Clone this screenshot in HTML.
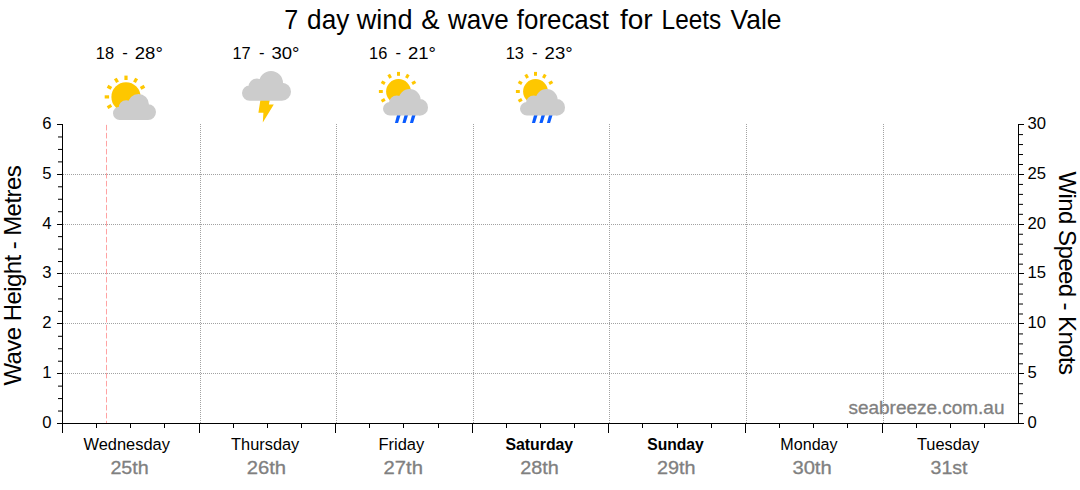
<!DOCTYPE html>
<html><head><meta charset="utf-8"><title>7 day wind &amp; wave forecast for Leets Vale</title>
<style>html,body{margin:0;padding:0;background:#fff;}body{width:1080px;height:490px;overflow:hidden;font-family:"Liberation Sans", sans-serif;}svg{display:block;}text{font-family:"Liberation Sans", sans-serif;}</style></head><body>
<svg width="1080" height="490" viewBox="0 0 1080 490">
<rect width="1080" height="490" fill="#fff"/>
<defs>
<pattern id="hd" x="1" y="0" width="2" height="1" patternUnits="userSpaceOnUse"><rect x="0" y="0" width="1" height="1" fill="#a2a2a2"/></pattern>
<pattern id="vd" x="0" y="0" width="1" height="2" patternUnits="userSpaceOnUse"><rect x="0" y="0" width="1" height="1" fill="#a2a2a2"/></pattern>
</defs>
<g shape-rendering="crispEdges">
<rect x="63" y="174" width="953" height="1" fill="url(#hd)"/>
<rect x="63" y="224" width="953" height="1" fill="url(#hd)"/>
<rect x="63" y="273" width="953" height="1" fill="url(#hd)"/>
<rect x="63" y="323" width="953" height="1" fill="url(#hd)"/>
<rect x="63" y="373" width="953" height="1" fill="url(#hd)"/>
<rect x="200" y="124" width="1" height="299" fill="url(#vd)"/>
<rect x="336" y="124" width="1" height="299" fill="url(#vd)"/>
<rect x="473" y="124" width="1" height="299" fill="url(#vd)"/>
<rect x="609" y="124" width="1" height="299" fill="url(#vd)"/>
<rect x="746" y="124" width="1" height="299" fill="url(#vd)"/>
<rect x="883" y="124" width="1" height="299" fill="url(#vd)"/>
<rect x="62" y="124" width="1" height="300" fill="#000"/>
<rect x="1018" y="124" width="1" height="300" fill="#000"/>
<rect x="62" y="423" width="957" height="1" fill="#000"/>
<rect x="57" y="124" width="5" height="1" fill="#000"/>
<rect x="57" y="174" width="5" height="1" fill="#000"/>
<rect x="57" y="224" width="5" height="1" fill="#000"/>
<rect x="57" y="273" width="5" height="1" fill="#000"/>
<rect x="57" y="323" width="5" height="1" fill="#000"/>
<rect x="57" y="373" width="5" height="1" fill="#000"/>
<rect x="57" y="423" width="5" height="1" fill="#000"/>
</g>
<rect x="106" y="124.85" width="1" height="5.60" fill="#ffa3a3"/>
<rect x="106" y="132.85" width="1" height="5.60" fill="#ffa3a3"/>
<rect x="106" y="140.85" width="1" height="5.60" fill="#ffa3a3"/>
<rect x="106" y="148.85" width="1" height="5.60" fill="#ffa3a3"/>
<rect x="106" y="156.85" width="1" height="5.60" fill="#ffa3a3"/>
<rect x="106" y="164.85" width="1" height="5.60" fill="#ffa3a3"/>
<rect x="106" y="172.85" width="1" height="5.60" fill="#ffa3a3"/>
<rect x="106" y="180.85" width="1" height="5.60" fill="#ffa3a3"/>
<rect x="106" y="188.85" width="1" height="5.60" fill="#ffa3a3"/>
<rect x="106" y="196.85" width="1" height="5.60" fill="#ffa3a3"/>
<rect x="106" y="204.85" width="1" height="5.60" fill="#ffa3a3"/>
<rect x="106" y="212.85" width="1" height="5.60" fill="#ffa3a3"/>
<rect x="106" y="220.85" width="1" height="5.60" fill="#ffa3a3"/>
<rect x="106" y="228.85" width="1" height="5.60" fill="#ffa3a3"/>
<rect x="106" y="236.85" width="1" height="5.60" fill="#ffa3a3"/>
<rect x="106" y="244.85" width="1" height="5.60" fill="#ffa3a3"/>
<rect x="106" y="252.85" width="1" height="5.60" fill="#ffa3a3"/>
<rect x="106" y="260.85" width="1" height="5.60" fill="#ffa3a3"/>
<rect x="106" y="268.85" width="1" height="5.60" fill="#ffa3a3"/>
<rect x="106" y="276.85" width="1" height="5.60" fill="#ffa3a3"/>
<rect x="106" y="284.85" width="1" height="5.60" fill="#ffa3a3"/>
<rect x="106" y="292.85" width="1" height="5.60" fill="#ffa3a3"/>
<rect x="106" y="300.85" width="1" height="5.60" fill="#ffa3a3"/>
<rect x="106" y="308.85" width="1" height="5.60" fill="#ffa3a3"/>
<rect x="106" y="316.85" width="1" height="5.60" fill="#ffa3a3"/>
<rect x="106" y="324.85" width="1" height="5.60" fill="#ffa3a3"/>
<rect x="106" y="332.85" width="1" height="5.60" fill="#ffa3a3"/>
<rect x="106" y="340.85" width="1" height="5.60" fill="#ffa3a3"/>
<rect x="106" y="348.85" width="1" height="5.60" fill="#ffa3a3"/>
<rect x="106" y="356.85" width="1" height="5.60" fill="#ffa3a3"/>
<rect x="106" y="364.85" width="1" height="5.60" fill="#ffa3a3"/>
<rect x="106" y="372.85" width="1" height="5.60" fill="#ffa3a3"/>
<rect x="106" y="380.85" width="1" height="5.60" fill="#ffa3a3"/>
<rect x="106" y="388.85" width="1" height="5.60" fill="#ffa3a3"/>
<rect x="106" y="396.85" width="1" height="5.60" fill="#ffa3a3"/>
<rect x="106" y="404.85" width="1" height="5.60" fill="#ffa3a3"/>
<rect x="106" y="412.85" width="1" height="5.60" fill="#ffa3a3"/>
<rect x="106" y="420.85" width="1" height="2.15" fill="#ffa3a3"/>
<rect x="58" y="136.46" width="4" height="1" fill="#000"/>
<rect x="58" y="148.92" width="4" height="1" fill="#000"/>
<rect x="58" y="161.38" width="4" height="1" fill="#000"/>
<rect x="58" y="186.29" width="4" height="1" fill="#000"/>
<rect x="58" y="198.75" width="4" height="1" fill="#000"/>
<rect x="58" y="211.21" width="4" height="1" fill="#000"/>
<rect x="58" y="236.12" width="4" height="1" fill="#000"/>
<rect x="58" y="248.58" width="4" height="1" fill="#000"/>
<rect x="58" y="261.04" width="4" height="1" fill="#000"/>
<rect x="58" y="285.96" width="4" height="1" fill="#000"/>
<rect x="58" y="298.42" width="4" height="1" fill="#000"/>
<rect x="58" y="310.88" width="4" height="1" fill="#000"/>
<rect x="58" y="335.79" width="4" height="1" fill="#000"/>
<rect x="58" y="348.25" width="4" height="1" fill="#000"/>
<rect x="58" y="360.71" width="4" height="1" fill="#000"/>
<rect x="58" y="385.62" width="4" height="1" fill="#000"/>
<rect x="58" y="398.08" width="4" height="1" fill="#000"/>
<rect x="58" y="410.54" width="4" height="1" fill="#000"/>
<g shape-rendering="crispEdges">
<rect x="1019" y="124" width="5" height="1" fill="#000"/>
<rect x="1019" y="174" width="5" height="1" fill="#000"/>
<rect x="1019" y="224" width="5" height="1" fill="#000"/>
<rect x="1019" y="273" width="5" height="1" fill="#000"/>
<rect x="1019" y="323" width="5" height="1" fill="#000"/>
<rect x="1019" y="373" width="5" height="1" fill="#000"/>
<rect x="1019" y="423" width="5" height="1" fill="#000"/>
</g>
<rect x="1019" y="134.09" width="4" height="1" fill="#000"/>
<rect x="1019" y="144.05" width="4" height="1" fill="#000"/>
<rect x="1019" y="154.02" width="4" height="1" fill="#000"/>
<rect x="1019" y="163.99" width="4" height="1" fill="#000"/>
<rect x="1019" y="183.92" width="4" height="1" fill="#000"/>
<rect x="1019" y="193.89" width="4" height="1" fill="#000"/>
<rect x="1019" y="203.85" width="4" height="1" fill="#000"/>
<rect x="1019" y="213.82" width="4" height="1" fill="#000"/>
<rect x="1019" y="233.75" width="4" height="1" fill="#000"/>
<rect x="1019" y="243.72" width="4" height="1" fill="#000"/>
<rect x="1019" y="253.69" width="4" height="1" fill="#000"/>
<rect x="1019" y="263.65" width="4" height="1" fill="#000"/>
<rect x="1019" y="283.59" width="4" height="1" fill="#000"/>
<rect x="1019" y="293.55" width="4" height="1" fill="#000"/>
<rect x="1019" y="303.52" width="4" height="1" fill="#000"/>
<rect x="1019" y="313.49" width="4" height="1" fill="#000"/>
<rect x="1019" y="333.42" width="4" height="1" fill="#000"/>
<rect x="1019" y="343.39" width="4" height="1" fill="#000"/>
<rect x="1019" y="353.35" width="4" height="1" fill="#000"/>
<rect x="1019" y="363.32" width="4" height="1" fill="#000"/>
<rect x="1019" y="383.25" width="4" height="1" fill="#000"/>
<rect x="1019" y="393.22" width="4" height="1" fill="#000"/>
<rect x="1019" y="403.19" width="4" height="1" fill="#000"/>
<rect x="1019" y="413.15" width="4" height="1" fill="#000"/>
<g shape-rendering="crispEdges">
<rect x="62" y="423" width="1" height="10" fill="#000"/>
<rect x="199" y="423" width="1" height="10" fill="#000"/>
<rect x="335" y="423" width="1" height="10" fill="#000"/>
<rect x="472" y="423" width="1" height="10" fill="#000"/>
<rect x="608" y="423" width="1" height="10" fill="#000"/>
<rect x="745" y="423" width="1" height="10" fill="#000"/>
<rect x="882" y="423" width="1" height="10" fill="#000"/>
<rect x="96" y="423" width="1" height="5" fill="#000"/>
<rect x="130" y="423" width="1" height="5" fill="#000"/>
<rect x="164" y="423" width="1" height="5" fill="#000"/>
<rect x="233" y="423" width="1" height="5" fill="#000"/>
<rect x="267" y="423" width="1" height="5" fill="#000"/>
<rect x="301" y="423" width="1" height="5" fill="#000"/>
<rect x="369" y="423" width="1" height="5" fill="#000"/>
<rect x="403" y="423" width="1" height="5" fill="#000"/>
<rect x="438" y="423" width="1" height="5" fill="#000"/>
<rect x="506" y="423" width="1" height="5" fill="#000"/>
<rect x="540" y="423" width="1" height="5" fill="#000"/>
<rect x="574" y="423" width="1" height="5" fill="#000"/>
<rect x="642" y="423" width="1" height="5" fill="#000"/>
<rect x="677" y="423" width="1" height="5" fill="#000"/>
<rect x="711" y="423" width="1" height="5" fill="#000"/>
<rect x="779" y="423" width="1" height="5" fill="#000"/>
<rect x="813" y="423" width="1" height="5" fill="#000"/>
<rect x="847" y="423" width="1" height="5" fill="#000"/>
<rect x="916" y="423" width="1" height="5" fill="#000"/>
<rect x="950" y="423" width="1" height="5" fill="#000"/>
<rect x="984" y="423" width="1" height="5" fill="#000"/>
</g>
<text x="284.28" y="29.0" font-size="27.3" text-anchor="start" fill="#000" font-weight="normal" textLength="13.99" lengthAdjust="spacingAndGlyphs" >7</text>
<text x="307.1" y="29.0" font-size="27.3" text-anchor="start" fill="#000" font-weight="normal" textLength="42.21" lengthAdjust="spacingAndGlyphs" >day</text>
<text x="356.7" y="29.0" font-size="27.3" text-anchor="start" fill="#000" font-weight="normal" textLength="55.83" lengthAdjust="spacingAndGlyphs" >wind</text>
<text x="421.2" y="29.0" font-size="27.3" text-anchor="start" fill="#000" font-weight="normal" textLength="18.32" lengthAdjust="spacingAndGlyphs" >&amp;</text>
<text x="447.9" y="29.0" font-size="27.3" text-anchor="start" fill="#000" font-weight="normal" textLength="60.8" lengthAdjust="spacingAndGlyphs" >wave</text>
<text x="516.8" y="29.0" font-size="27.3" text-anchor="start" fill="#000" font-weight="normal" textLength="92.06" lengthAdjust="spacingAndGlyphs" >forecast</text>
<text x="619.9" y="29.0" font-size="27.3" text-anchor="start" fill="#000" font-weight="normal" textLength="32.76" lengthAdjust="spacingAndGlyphs" >for</text>
<text x="661.61" y="29.0" font-size="27.3" text-anchor="start" fill="#000" font-weight="normal" textLength="59.6" lengthAdjust="spacingAndGlyphs" >Leets</text>
<text x="730.5" y="29.0" font-size="27.3" text-anchor="start" fill="#000" font-weight="normal" textLength="50.99" lengthAdjust="spacingAndGlyphs" >Vale</text>
<text x="95.89" y="58.8" font-size="16.3" text-anchor="start" fill="#000" font-weight="normal" textLength="18.23" lengthAdjust="spacingAndGlyphs" >18</text>
<text x="122.3" y="57.7" font-size="16.3" text-anchor="start" fill="#000" font-weight="normal" textLength="5.53" lengthAdjust="spacingAndGlyphs" >-</text>
<text x="134.8" y="58.8" font-size="16.3" text-anchor="start" fill="#000" font-weight="normal" textLength="28.01" lengthAdjust="spacingAndGlyphs" >28°</text>
<text x="232.49" y="58.8" font-size="16.3" text-anchor="start" fill="#000" font-weight="normal" textLength="18.23" lengthAdjust="spacingAndGlyphs" >17</text>
<text x="258.9" y="57.7" font-size="16.3" text-anchor="start" fill="#000" font-weight="normal" textLength="5.53" lengthAdjust="spacingAndGlyphs" >-</text>
<text x="271.4" y="58.8" font-size="16.3" text-anchor="start" fill="#000" font-weight="normal" textLength="28.01" lengthAdjust="spacingAndGlyphs" >30°</text>
<text x="369.09" y="58.8" font-size="16.3" text-anchor="start" fill="#000" font-weight="normal" textLength="18.23" lengthAdjust="spacingAndGlyphs" >16</text>
<text x="395.5" y="57.7" font-size="16.3" text-anchor="start" fill="#000" font-weight="normal" textLength="5.53" lengthAdjust="spacingAndGlyphs" >-</text>
<text x="408.0" y="58.8" font-size="16.3" text-anchor="start" fill="#000" font-weight="normal" textLength="28.01" lengthAdjust="spacingAndGlyphs" >21°</text>
<text x="505.69" y="58.8" font-size="16.3" text-anchor="start" fill="#000" font-weight="normal" textLength="18.23" lengthAdjust="spacingAndGlyphs" >13</text>
<text x="532.1" y="57.7" font-size="16.3" text-anchor="start" fill="#000" font-weight="normal" textLength="5.53" lengthAdjust="spacingAndGlyphs" >-</text>
<text x="544.6" y="58.8" font-size="16.3" text-anchor="start" fill="#000" font-weight="normal" textLength="28.01" lengthAdjust="spacingAndGlyphs" >23°</text>
<text x="848.5" y="414.2" font-size="18.1" text-anchor="start" fill="#808080" font-weight="normal" textLength="155.95" lengthAdjust="spacingAndGlyphs" stroke="#808080" stroke-width="0.3">seabreeze.com.au</text>
<text x="83.5" y="449.9" font-size="16.67" text-anchor="start" fill="#000" font-weight="normal" textLength="86.38" lengthAdjust="spacingAndGlyphs" >Wednesday</text>
<text x="231.1" y="449.9" font-size="16.67" text-anchor="start" fill="#000" font-weight="normal" textLength="68.15" lengthAdjust="spacingAndGlyphs" >Thursday</text>
<text x="378.41" y="449.9" font-size="16.67" text-anchor="start" fill="#000" font-weight="normal" textLength="45.88" lengthAdjust="spacingAndGlyphs" >Friday</text>
<text x="505.4" y="449.9" font-size="16.2" text-anchor="start" fill="#000" font-weight="bold" textLength="67.8" lengthAdjust="spacingAndGlyphs" >Saturday</text>
<text x="647.2" y="449.9" font-size="16.2" text-anchor="start" fill="#000" font-weight="bold" textLength="56.59" lengthAdjust="spacingAndGlyphs" >Sunday</text>
<text x="780.33" y="449.9" font-size="16.67" text-anchor="start" fill="#000" font-weight="normal" textLength="57.26" lengthAdjust="spacingAndGlyphs" >Monday</text>
<text x="916.9" y="449.9" font-size="16.67" text-anchor="start" fill="#000" font-weight="normal" textLength="62.28" lengthAdjust="spacingAndGlyphs" >Tuesday</text>
<text x="110.4" y="473.8" font-size="18.2" text-anchor="start" fill="#808080" font-weight="normal" textLength="38.34" lengthAdjust="spacingAndGlyphs" stroke="#808080" stroke-width="0.3">25th</text>
<text x="246.7" y="473.8" font-size="18.2" text-anchor="start" fill="#808080" font-weight="normal" textLength="39.35" lengthAdjust="spacingAndGlyphs" stroke="#808080" stroke-width="0.3">26th</text>
<text x="383.6" y="473.8" font-size="18.2" text-anchor="start" fill="#808080" font-weight="normal" textLength="39.35" lengthAdjust="spacingAndGlyphs" stroke="#808080" stroke-width="0.3">27th</text>
<text x="520.2" y="473.8" font-size="18.2" text-anchor="start" fill="#808080" font-weight="normal" textLength="38.54" lengthAdjust="spacingAndGlyphs" stroke="#808080" stroke-width="0.3">28th</text>
<text x="657.1" y="473.8" font-size="18.2" text-anchor="start" fill="#808080" font-weight="normal" textLength="38.54" lengthAdjust="spacingAndGlyphs" stroke="#808080" stroke-width="0.3">29th</text>
<text x="792.4" y="473.8" font-size="18.2" text-anchor="start" fill="#808080" font-weight="normal" textLength="39.35" lengthAdjust="spacingAndGlyphs" stroke="#808080" stroke-width="0.3">30th</text>
<text x="930.6" y="473.8" font-size="18.2" text-anchor="start" fill="#808080" font-weight="normal" textLength="36.95" lengthAdjust="spacingAndGlyphs" stroke="#808080" stroke-width="0.3">31st</text>
<text x="51.5" y="128.7" font-size="16.67" text-anchor="end" fill="#000" font-weight="normal" >6</text>
<text x="51.5" y="178.7" font-size="16.67" text-anchor="end" fill="#000" font-weight="normal" >5</text>
<text x="51.5" y="228.7" font-size="16.67" text-anchor="end" fill="#000" font-weight="normal" >4</text>
<text x="51.5" y="277.7" font-size="16.67" text-anchor="end" fill="#000" font-weight="normal" >3</text>
<text x="51.5" y="327.7" font-size="16.67" text-anchor="end" fill="#000" font-weight="normal" >2</text>
<text x="51.5" y="377.7" font-size="16.67" text-anchor="end" fill="#000" font-weight="normal" >1</text>
<text x="51.5" y="427.7" font-size="16.67" text-anchor="end" fill="#000" font-weight="normal" >0</text>
<text x="1027.5" y="128.7" font-size="16.67" text-anchor="start" fill="#000" font-weight="normal" >30</text>
<text x="1027.5" y="178.7" font-size="16.67" text-anchor="start" fill="#000" font-weight="normal" >25</text>
<text x="1027.5" y="228.7" font-size="16.67" text-anchor="start" fill="#000" font-weight="normal" >20</text>
<text x="1027.5" y="277.7" font-size="16.67" text-anchor="start" fill="#000" font-weight="normal" >15</text>
<text x="1027.5" y="327.7" font-size="16.67" text-anchor="start" fill="#000" font-weight="normal" >10</text>
<text x="1027.5" y="377.7" font-size="16.67" text-anchor="start" fill="#000" font-weight="normal" >5</text>
<text x="1027.5" y="427.7" font-size="16.67" text-anchor="start" fill="#000" font-weight="normal" >0</text>
<text transform="translate(20.7,385.6) rotate(-90)" font-size="24" fill="#000" textLength="220.3" lengthAdjust="spacing">Wave Height - Metres</text>
<text transform="translate(1058.9,171.5) rotate(90)" font-size="24" fill="#000" textLength="203.6" lengthAdjust="spacing">Wind Speed - Knots</text>
<circle cx="126" cy="96.9" r="14.6" fill="#fec700"/><rect x="124.4" y="75.60000000000001" width="3.2" height="4.400000000000002" fill="#fec700" transform="rotate(0 126 96.9)"/><rect x="124.4" y="75.60000000000001" width="3.2" height="4.400000000000002" fill="#fec700" transform="rotate(30 126 96.9)"/><rect x="124.4" y="75.60000000000001" width="3.2" height="4.400000000000002" fill="#fec700" transform="rotate(60 126 96.9)"/><rect x="124.4" y="75.60000000000001" width="3.2" height="4.400000000000002" fill="#fec700" transform="rotate(-30 126 96.9)"/><rect x="124.4" y="75.60000000000001" width="3.2" height="4.400000000000002" fill="#fec700" transform="rotate(-60 126 96.9)"/><rect x="124.4" y="75.60000000000001" width="3.2" height="4.400000000000002" fill="#fec700" transform="rotate(-90 126 96.9)"/><rect x="124.4" y="75.60000000000001" width="3.2" height="4.400000000000002" fill="#fec700" transform="rotate(-120 126 96.9)"/>
<path d="M113.00,113.32a6.67,6.68 0 1,1 13.34,0a6.67,6.68 0 1,1 -13.34,0zM118.62,108.05a7.55,7.55 0 1,1 15.09,0a7.55,7.55 0 1,1 -15.09,0zM127.92,104.54a10.53,10.54 0 1,1 21.06,0a10.53,10.54 0 1,1 -21.06,0zM140.20,112.09a7.90,7.91 0 1,1 15.80,0a7.90,7.91 0 1,1 -15.80,0zM119.67,106.65H148.10V120.00H119.67z" fill="#cccccc" fill-rule="nonzero"/>
<polygon points="260.4,100 269.8,100 268.9,104.4 273.8,104.4 262.8,122.6 263.4,112.7 258.4,112.7" fill="#fec700"/>
<path d="M242.00,93.07a7.60,7.63 0 1,1 15.20,0a7.60,7.63 0 1,1 -15.20,0zM248.40,87.05a8.60,8.63 0 1,1 17.20,0a8.60,8.63 0 1,1 -17.20,0zM259.00,83.04a12.00,12.04 0 1,1 24.00,0a12.00,12.04 0 1,1 -24.00,0zM273.00,91.67a9.00,9.03 0 1,1 18.00,0a9.00,9.03 0 1,1 -18.00,0zM249.60,85.45H282.00V100.70H249.60z" fill="#cccccc" fill-rule="nonzero"/>
<circle cx="398.5" cy="91.5" r="12.4" fill="#fec700"/><rect x="397.0" y="71.9" width="3.0" height="3.900000000000002" fill="#fec700" transform="rotate(0 398.5 91.5)"/><rect x="397.0" y="71.9" width="3.0" height="3.900000000000002" fill="#fec700" transform="rotate(30 398.5 91.5)"/><rect x="397.0" y="71.9" width="3.0" height="3.900000000000002" fill="#fec700" transform="rotate(60 398.5 91.5)"/><rect x="397.0" y="71.9" width="3.0" height="3.900000000000002" fill="#fec700" transform="rotate(-30 398.5 91.5)"/><rect x="397.0" y="71.9" width="3.0" height="3.900000000000002" fill="#fec700" transform="rotate(-60 398.5 91.5)"/><rect x="397.0" y="71.9" width="3.0" height="3.900000000000002" fill="#fec700" transform="rotate(-90 398.5 91.5)"/><rect x="397.0" y="71.9" width="3.0" height="3.900000000000002" fill="#fec700" transform="rotate(-120 398.5 91.5)"/>
<polygon points="397.2,114.5 400.7,114.5 398.1,122.9 394.9,122.9" fill="#0a5cff"/>
<polygon points="404.7,114.5 408.2,114.5 405.6,122.9 402.4,122.9" fill="#0a5cff"/>
<polygon points="412.2,114.5 415.7,114.5 413.1,122.9 409.9,122.9" fill="#0a5cff"/>
<path d="M383.00,108.70a6.98,6.80 0 1,1 13.96,0a6.98,6.80 0 1,1 -13.96,0zM388.88,103.32a7.90,7.70 0 1,1 15.80,0a7.90,7.70 0 1,1 -15.80,0zM398.61,99.74a11.02,10.74 0 1,1 22.04,0a11.02,10.74 0 1,1 -22.04,0zM411.47,107.44a8.27,8.06 0 1,1 16.53,0a8.27,8.06 0 1,1 -16.53,0zM389.98,101.89H419.73V115.50H389.98z" fill="#cccccc" fill-rule="nonzero"/>
<circle cx="535.5" cy="91.5" r="12.4" fill="#fec700"/><rect x="534.0" y="71.9" width="3.0" height="3.900000000000002" fill="#fec700" transform="rotate(0 535.5 91.5)"/><rect x="534.0" y="71.9" width="3.0" height="3.900000000000002" fill="#fec700" transform="rotate(30 535.5 91.5)"/><rect x="534.0" y="71.9" width="3.0" height="3.900000000000002" fill="#fec700" transform="rotate(60 535.5 91.5)"/><rect x="534.0" y="71.9" width="3.0" height="3.900000000000002" fill="#fec700" transform="rotate(-30 535.5 91.5)"/><rect x="534.0" y="71.9" width="3.0" height="3.900000000000002" fill="#fec700" transform="rotate(-60 535.5 91.5)"/><rect x="534.0" y="71.9" width="3.0" height="3.900000000000002" fill="#fec700" transform="rotate(-90 535.5 91.5)"/><rect x="534.0" y="71.9" width="3.0" height="3.900000000000002" fill="#fec700" transform="rotate(-120 535.5 91.5)"/>
<polygon points="534.2,114.5 537.7,114.5 535.1,122.9 531.9,122.9" fill="#0a5cff"/>
<polygon points="541.7,114.5 545.2,114.5 542.6,122.9 539.4,122.9" fill="#0a5cff"/>
<polygon points="549.2,114.5 552.7,114.5 550.1,122.9 546.9,122.9" fill="#0a5cff"/>
<path d="M520.00,108.70a6.98,6.80 0 1,1 13.96,0a6.98,6.80 0 1,1 -13.96,0zM525.88,103.32a7.90,7.70 0 1,1 15.80,0a7.90,7.70 0 1,1 -15.80,0zM535.61,99.74a11.02,10.74 0 1,1 22.04,0a11.02,10.74 0 1,1 -22.04,0zM548.47,107.44a8.27,8.06 0 1,1 16.53,0a8.27,8.06 0 1,1 -16.53,0zM526.98,101.89H556.73V115.50H526.98z" fill="#cccccc" fill-rule="nonzero"/>
</svg></body></html>
